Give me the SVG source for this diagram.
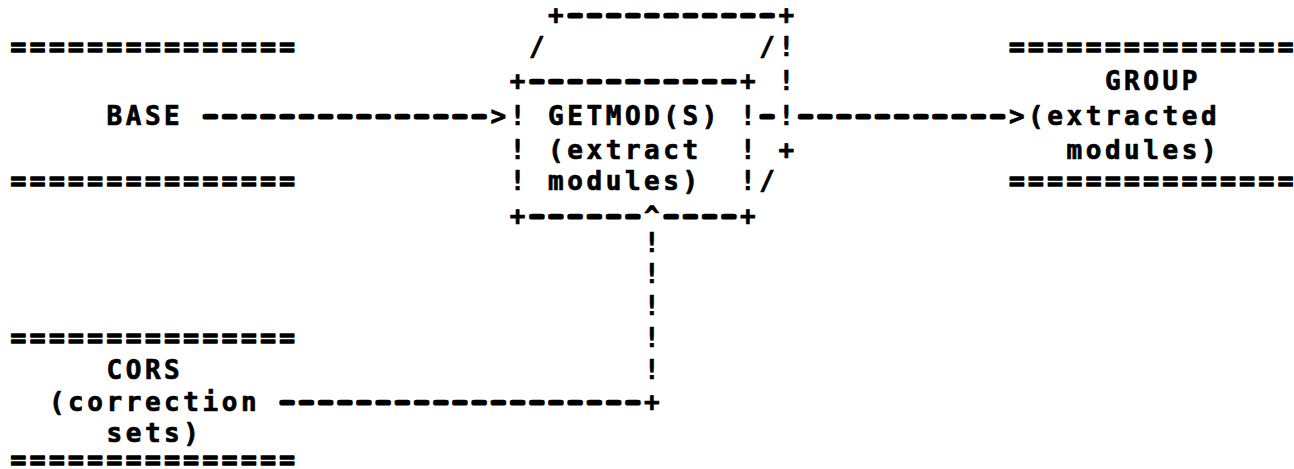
<svg xmlns="http://www.w3.org/2000/svg" width="1294" height="469" viewBox="0 0 1294 469">
  <style>
    text { font-family: "DejaVu Sans Mono", "Liberation Mono", monospace; font-weight: bold; font-size: 26px; letter-spacing: 3.55px; fill: #000; stroke: #000; stroke-width: 0.7px; stroke-linejoin: round; white-space: pre; }
    /* double rules round each data set: heavier strokes for the blotted print */
    text.eq { stroke-width: 1.5px; }
    /* runs of dashes: small glyphs stretched 1.8x and thickened, keeping the 19.2px pitch */
    text.dash { font-size: 17.72px; letter-spacing: 0; stroke-width: 3.2px; stroke-linecap: round; }
  </style>
  <rect width="1294" height="469" fill="#fff"/>

  <!-- source library BASE -->
  <g id="base">
    <text class="eq" x="10.5" y="56">===============</text>
    <text x="106.5" y="125">BASE</text>
    <text class="eq" x="10.5" y="190">===============</text>
  </g>

  <!-- GETMOD(S) process, drawn as a box with depth -->
  <g id="getmod">
    <text x="548.1" y="24">+</text>
    <text class="dash" transform="translate(565.53 21) scale(1.8 1)">-----------</text>
    <text x="778.5" y="24">+</text>
    <text x="528.9" y="56">/</text>
    <text x="759.3" y="56">/!</text>
    <text x="509.7" y="90">+</text>
    <text class="dash" transform="translate(527.13 87) scale(1.8 1)">-----------</text>
    <text x="740.1" y="90">+ !</text>
    <text x="509.7" y="125">!</text>
    <text x="548.1" y="125">GETMOD(S)</text>
    <text x="740.1" y="125">!</text>
    <text x="778.5" y="125">!</text>
    <text x="509.7" y="159">!</text>
    <text x="548.1" y="159">(extract</text>
    <text x="740.1" y="159">! +</text>
    <text x="509.7" y="190">!</text>
    <text x="548.1" y="190">modules)</text>
    <text x="740.1" y="190">!/</text>
    <text x="509.7" y="225">+</text>
    <text class="dash" transform="translate(527.13 222) scale(1.8 1)">------</text>
    <text class="dash" transform="translate(661.53 222) scale(1.8 1)">----</text>
    <text x="740.1" y="225">+</text>
  </g>

  <!-- output GROUP -->
  <g id="group">
    <text class="eq" x="1008.9" y="56">===============</text>
    <text x="1104.9" y="90">GROUP</text>
    <text x="1028.1" y="125">(extracted</text>
    <text x="1066.5" y="159">modules)</text>
    <text class="eq" x="1008.9" y="190">===============</text>
  </g>

  <!-- correction sets CORS -->
  <g id="cors">
    <text class="eq" x="10.5" y="347">===============</text>
    <text x="106.5" y="379">CORS</text>
    <text x="48.9" y="411">(correction</text>
    <text x="106.5" y="442">sets)</text>
    <text class="eq" x="10.5" y="469">===============</text>
  </g>

  <!-- data flow lines -->
  <g id="connectors">
    <!-- BASE into GETMOD(S) -->
    <text class="dash" transform="translate(200.73 122) scale(1.8 1)">---------------</text>
    <text x="490.5" y="125">&gt;</text>
    <!-- GETMOD(S) out to GROUP -->
    <text class="dash" transform="translate(757.53 122) scale(1.8 1)">-</text>
    <text class="dash" transform="translate(795.93 122) scale(1.8 1)">-----------</text>
    <text x="1008.9" y="125">&gt;</text>
    <!-- CORS up into GETMOD(S) -->
    <text class="dash" transform="translate(277.53 408) scale(1.8 1)">-------------------</text>
    <text x="644.1" y="411">+</text>
    <text x="644.1" y="379">!</text>
    <text x="644.1" y="347">!</text>
    <text x="644.1" y="315">!</text>
    <text x="644.1" y="283">!</text>
    <text x="644.1" y="252">!</text>
    <text x="644.1" y="225">^</text>
  </g>
</svg>
